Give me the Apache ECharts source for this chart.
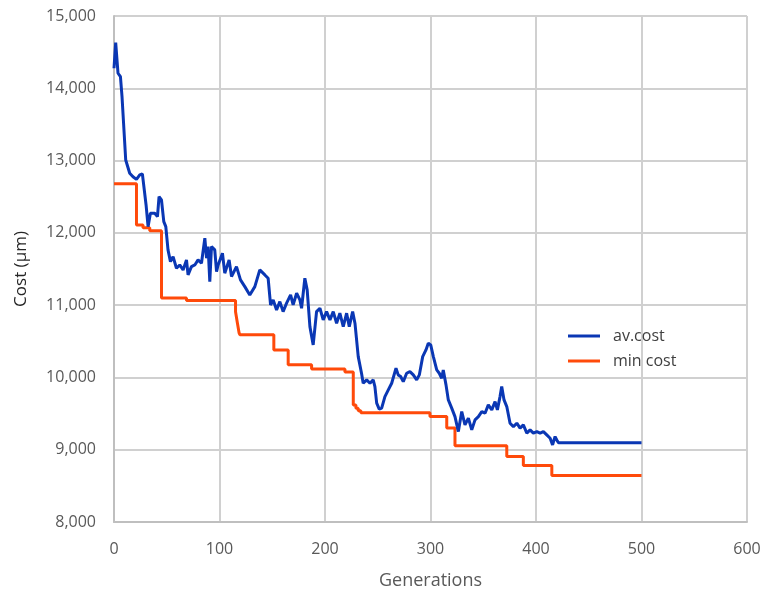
<!DOCTYPE html>
<html>
<head>
<meta charset="utf-8">
<script src="https://cdn.jsdelivr.net/npm/echarts@6/dist/echarts.min.js"></script>
<style>
html,body{margin:0;padding:0;background:#fff;}
#chart{width:764px;height:595px;}
</style>
</head>
<body>
<div id="chart"></div>
<script>
// x tick labels and y tick labels
var xTicks = [0, 100, 200, 300, 400, 500, 600];
var yTicks = [8000, 9000, 10000, 11000, 12000, 13000, 14000, 15000];

// av.cost series (generation, cost)
var avGen = [0, 1.6, 3.8, 6.1, 7.6, 11.1, 14.9, 18, 21.3, 24.4, 26.9, 28.5, 30.4, 32.3, 34.5, 38.6, 41.2, 42.7, 45, 47.2, 49.1, 51.2, 53.5, 56, 59.2, 62.3, 65.5, 68.7, 70.2, 73.4, 76.6, 79.7, 82.9, 86.1, 87.7, 89.2, 90.8, 92.4, 95.5, 97.2, 98.7, 102.8, 105, 109.1, 111.4, 116.1, 119.9, 124, 128.7, 133.5, 138.2, 143, 146.1, 148.4, 150.9, 154.1, 157.2, 160.3, 163.6, 167.4, 169.8, 173.1, 176.2, 177.8, 180.9, 183.1, 185.7, 188.8, 192, 195.2, 198.3, 201.5, 204.7, 207.8, 211, 214.1, 217.3, 220.5, 223, 226.2, 228.4, 231.5, 234.7, 236.2, 239.5, 242.6, 245.7, 247.3, 249, 251.4, 253.7, 256.8, 260, 263.2, 267.3, 269.4, 271.7, 274.2, 277.4, 280.5, 283.7, 286.9, 289.4, 292.6, 295.7, 297.9, 300.2, 302.7, 305.9, 308.3, 310.6, 312.1, 314.7, 316.9, 320.1, 323.2, 326.4, 329.6, 332.7, 335.9, 339.1, 342.2, 345.4, 348.6, 351.7, 354.8, 358.1, 361.2, 363.4, 365.9, 367.5, 369.7, 372.3, 375.4, 378.6, 381.8, 384.9, 388, 391.3, 394.4, 397.5, 400.8, 403.9, 407, 410.2, 413.4, 415.7, 418.1, 419.7, 421.3, 500];
var avCost = [14277, 14631, 14208, 14161, 13884, 13008, 12825, 12777, 12740, 12801, 12815, 12801, 12386, 12086, 12271, 12271, 12224, 12501, 12455, 12155, 12086, 11764, 11602, 11671, 11511, 11556, 11487, 11626, 11418, 11533, 11556, 11626, 11580, 11926, 11649, 11810, 11325, 11810, 11764, 11464, 11556, 11718, 11442, 11626, 11395, 11533, 11349, 11256, 11141, 11256, 11487, 11418, 11372, 11003, 11072, 10934, 11049, 10910, 11027, 11141, 11003, 11165, 11072, 10957, 11372, 11211, 10703, 10450, 10910, 10957, 10796, 10910, 10796, 10910, 10750, 10888, 10703, 10888, 10703, 10910, 10750, 10288, 10050, 9920, 9966, 9920, 9966, 9873, 9644, 9561, 9575, 9735, 9828, 9920, 10128, 10035, 10012, 9942, 10058, 10081, 10035, 9966, 10035, 10288, 10381, 10473, 10450, 10288, 10104, 10058, 9989, 10104, 9897, 9689, 9575, 9458, 9251, 9527, 9343, 9436, 9274, 9413, 9458, 9527, 9505, 9620, 9551, 9666, 9551, 9735, 9873, 9689, 9597, 9367, 9320, 9367, 9298, 9343, 9229, 9274, 9229, 9251, 9229, 9251, 9205, 9159, 9067, 9182, 9136, 9095, 9095];

// min cost series (generation where each level starts, cost)
var minGen = [0, 21.3, 27.5, 33.9, 45, 68.7, 115.2, 117, 118.5, 119.3, 151.5, 165.1, 187.3, 218.9, 226.8, 229.3, 231.5, 234, 299.5, 315.4, 323.2, 372.3, 388, 415, 500];
var minCost = [12680, 12110, 12070, 12030, 11100, 11065, 10910, 10750, 10620, 10590, 10380, 10175, 10115, 10075, 9620, 9575, 9540, 9510, 9460, 9300, 9055, 8905, 8780, 8645, 8645];

function pairs(xs, ys) {
  var out = [];
  for (var i = 0; i < xs.length; i++) out.push([xs[i], ys[i]]);
  return out;
}

var chart = echarts.init(document.getElementById('chart'), null, {renderer: 'canvas'});
var textColor = '#595959';
var fontFam = '"Open Sans", "DejaVu Sans", sans-serif';
chart.setOption({
  animation: false,
  backgroundColor: '#ffffff',
  grid: {left: 114, right: 17, top: 16, bottom: 73, containLabel: false},
  legend: {
    orient: 'vertical',
    left: 563,
    top: 323,
    itemWidth: 32,
    itemHeight: 3,
    itemGap: 9,
    icon: 'rect',
    textStyle: {color: '#404040', fontSize: 16, fontFamily: fontFam, padding: [0, 0, 0, 8]},
    data: ['av.cost', 'min cost']
  },
  xAxis: {
    type: 'value',
    min: xTicks[0],
    max: xTicks[xTicks.length - 1],
    interval: 100,
    name: 'Generations',
    nameLocation: 'middle',
    nameGap: 50,
    nameTextStyle: {color: textColor, fontSize: 18, fontFamily: fontFam},
    axisLine: {lineStyle: {color: '#bfbfbf', width: 2}},
    axisTick: {show: false},
    axisLabel: {color: textColor, fontSize: 16, fontFamily: fontFam, margin: 19},
    splitLine: {show: true, lineStyle: {color: '#d0d0d0', width: 2}}
  },
  yAxis: {
    type: 'value',
    min: yTicks[0],
    max: yTicks[yTicks.length - 1],
    interval: 1000,
    name: 'Cost (µm)',
    nameLocation: 'middle',
    nameGap: 84,
    nameTextStyle: {color: '#262626', fontSize: 17, fontFamily: fontFam},
    axisLine: {show: true, lineStyle: {color: '#bfbfbf', width: 2}},
    axisTick: {show: false},
    axisLabel: {
      color: textColor, fontSize: 16, fontFamily: fontFam, margin: 18,
      formatter: function (v) { return v.toLocaleString('en-US'); }
    },
    splitLine: {show: true, lineStyle: {color: '#d0d0d0', width: 2}}
  },
  series: [
    {
      name: 'av.cost',
      type: 'line',
      data: pairs(avGen, avCost),
      showSymbol: false,
      symbol: 'none',
      lineStyle: {color: '#0a37b4', width: 3},
      itemStyle: {color: '#0a37b4'},
      z: 3
    },
    {
      name: 'min cost',
      type: 'line',
      step: 'end',
      data: pairs(minGen, minCost),
      showSymbol: false,
      symbol: 'none',
      lineStyle: {color: '#ff4a0a', width: 3},
      itemStyle: {color: '#ff4a0a'},
      z: 2
    }
  ]
});
</script>
</body>
</html>
